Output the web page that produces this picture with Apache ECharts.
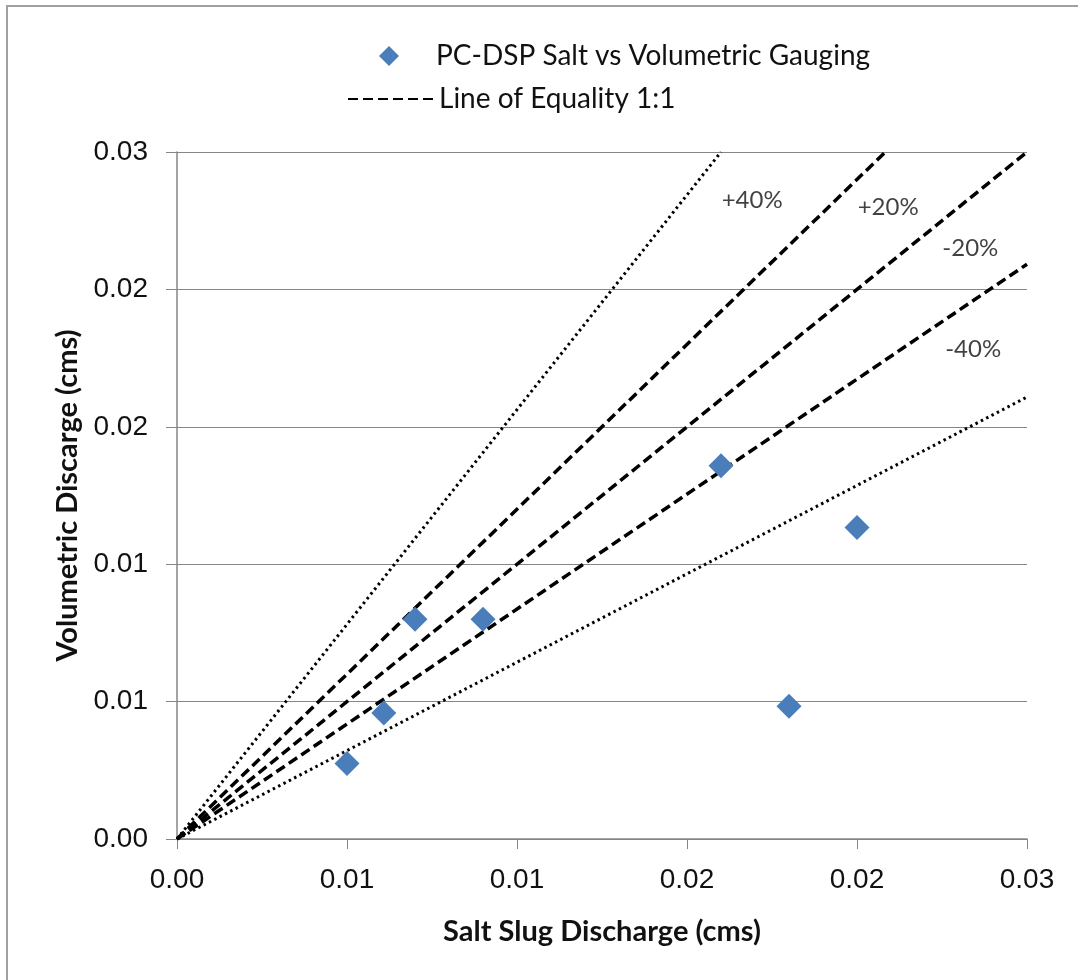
<!DOCTYPE html>
<html lang="en">
<head>
  <meta charset="UTF-8">
  <title>Salt vs Volumetric</title>
  <style>
    html, body { margin: 0; padding: 0; background: #fff; }
    #chart { width: 1078px; height: 980px; }
  </style>
</head>
<body>
  <script src="https://cdn.jsdelivr.net/npm/echarts@6/dist/echarts.min.js"></script>
  <div id="chart"></div>
  <script>
    let chart = echarts.init(document.getElementById('chart'))

    // measured points: [salt slug, volumetric]
    var saltSlug = [0.0060, 0.0073, 0.0084, 0.0108, 0.0192, 0.0240, 0.0216]
    var volumetric = [0.0033, 0.0055, 0.0096, 0.0096, 0.0163, 0.0136, 0.0058]

    // tick labels as printed (values are rounded to 2 places)
    var xTickLabels = ['0.00', '0.01', '0.01', '0.02', '0.02', '0.03']
    var yTickLabels = ['0.00', '0.01', '0.01', '0.02', '0.02', '0.03']

    // reference lines, from the origin to where they leave the plot
    var refNames = ['+40% line', '+20% line', 'Line of Equality 1:1', '-20% line', '-40% line']
    var refEndX = [0.0192, 0.0250, 0.0300, 0.0300, 0.0300]
    var refEndY = [0.0300, 0.0300, 0.0300, 0.0251, 0.0193]
    var refDash = ['dotted', 'dashed', 'dashed', 'dashed', 'dotted']

    // text labels next to the lines
    var noteText = ['+40%', '+20%', '-20%', '-40%']
    var noteX = [0.0203, 0.0251, 0.0280, 0.0281]
    var noteY = [0.0279, 0.0276, 0.0258, 0.0214]

    var FONT = 'Lato, Noto Sans, sans-serif'
    var pts = saltSlug.map(function (x, i) { return [x, volumetric[i]] })

    var series = [{
      name: 'PC-DSP Salt vs Volumetric Gauging',
      type: 'scatter',
      symbol: 'diamond',
      symbolSize: 25,
      itemStyle: { color: '#4a7ebb', opacity: 1 },
      data: pts,
      z: 5
    }]

    for (let i = 0; i < refNames.length; i++) {
      let dashed = refDash[i] == 'dashed'
      series.push({
        name: refNames[i],
        type: 'line',
        showSymbol: false,
        symbol: 'none',
        silent: true,
        lineStyle: {
          color: '#000',
          width: dashed ? 3.5 : 3,
          type: dashed ? [10, 5] : [2.5, 3.5]
        },
        data: [[0, 0], [refEndX[i], refEndY[i]]],
        z: 3
      })
    }

    series.push({
      name: 'notes',
      type: 'scatter',
      symbolSize: 2,
      silent: true,
      itemStyle: { color: 'rgba(0,0,0,0)' },
      label: {
        show: true,
        position: 'inside',
        formatter: function (p) { return noteText[p.dataIndex] },
        fontFamily: FONT,
        fontSize: 24,
        color: '#111',
        textBorderWidth: 0
      },
      data: noteX.map(function (x, i) { return [x, noteY[i]] }),
      z: 6
    })

    let option = {
      backgroundColor: '#fff',
      animation: false,
      graphic: [{
        type: 'rect',
        shape: { x: 7, y: 6, width: 1080, height: 990 },
        style: { fill: 'none', stroke: '#a0a0a0', lineWidth: 2 },
        silent: true
      }],
      legend: [{
        left: 374,
        top: 37,
        itemWidth: 20,
        itemHeight: 20,
        data: [{ name: 'PC-DSP Salt vs Volumetric Gauging', icon: 'diamond' }],
        textStyle: { fontFamily: FONT, fontSize: 28, color: '#111', padding: [0, 0, 0, 32] }
      }, {
        left: 342,
        top: 80,
        itemWidth: 86,
        itemHeight: 14,
        data: [{ name: 'Line of Equality 1:1', itemStyle: { opacity: 0 } }],
        textStyle: { fontFamily: FONT, fontSize: 28, color: '#111' }
      }],
      grid: { left: 177, right: 51, top: 152, bottom: 141 },
      xAxis: {
        type: 'value',
        min: 0, max: 0.03, interval: 0.006,
        name: 'Salt Slug Discharge (cms)',
        nameLocation: 'middle',
        nameGap: 78,
        nameTextStyle: { fontFamily: FONT, fontSize: 29, fontWeight: 'bold', color: '#111' },
        axisLine: { lineStyle: { color: '#868686', width: 1.5 } },
        axisTick: { show: true, length: 10, lineStyle: { color: '#868686' } },
        splitLine: { show: false },
        axisLabel: {
          margin: 27,
          fontFamily: 'Liberation Sans, Arial, sans-serif',
          fontSize: 28,
          color: '#111',
          formatter: function (v) { return xTickLabels[Math.round(v / 0.006)] }
        }
      },
      yAxis: {
        type: 'value',
        min: 0, max: 0.03, interval: 0.006,
        name: 'Volumetric Discarge (cms)',
        nameLocation: 'middle',
        nameGap: 94,
        nameRotate: 90,
        nameTextStyle: { fontFamily: FONT, fontSize: 29, fontWeight: 'bold', color: '#111' },
        axisLine: { show: true, lineStyle: { color: '#868686', width: 1.5 } },
        axisTick: { show: true, length: 11, lineStyle: { color: '#868686' } },
        splitLine: { show: true, lineStyle: { color: '#868686', width: 1.2 } },
        axisLabel: {
          margin: 29,
          fontFamily: 'Liberation Sans, Arial, sans-serif',
          fontSize: 28,
          color: '#111',
          formatter: function (v) { return yTickLabels[Math.round(v / 0.006)] }
        }
      },
      series: series
    }
    chart.setOption(option)
  </script>
</body>
</html>
